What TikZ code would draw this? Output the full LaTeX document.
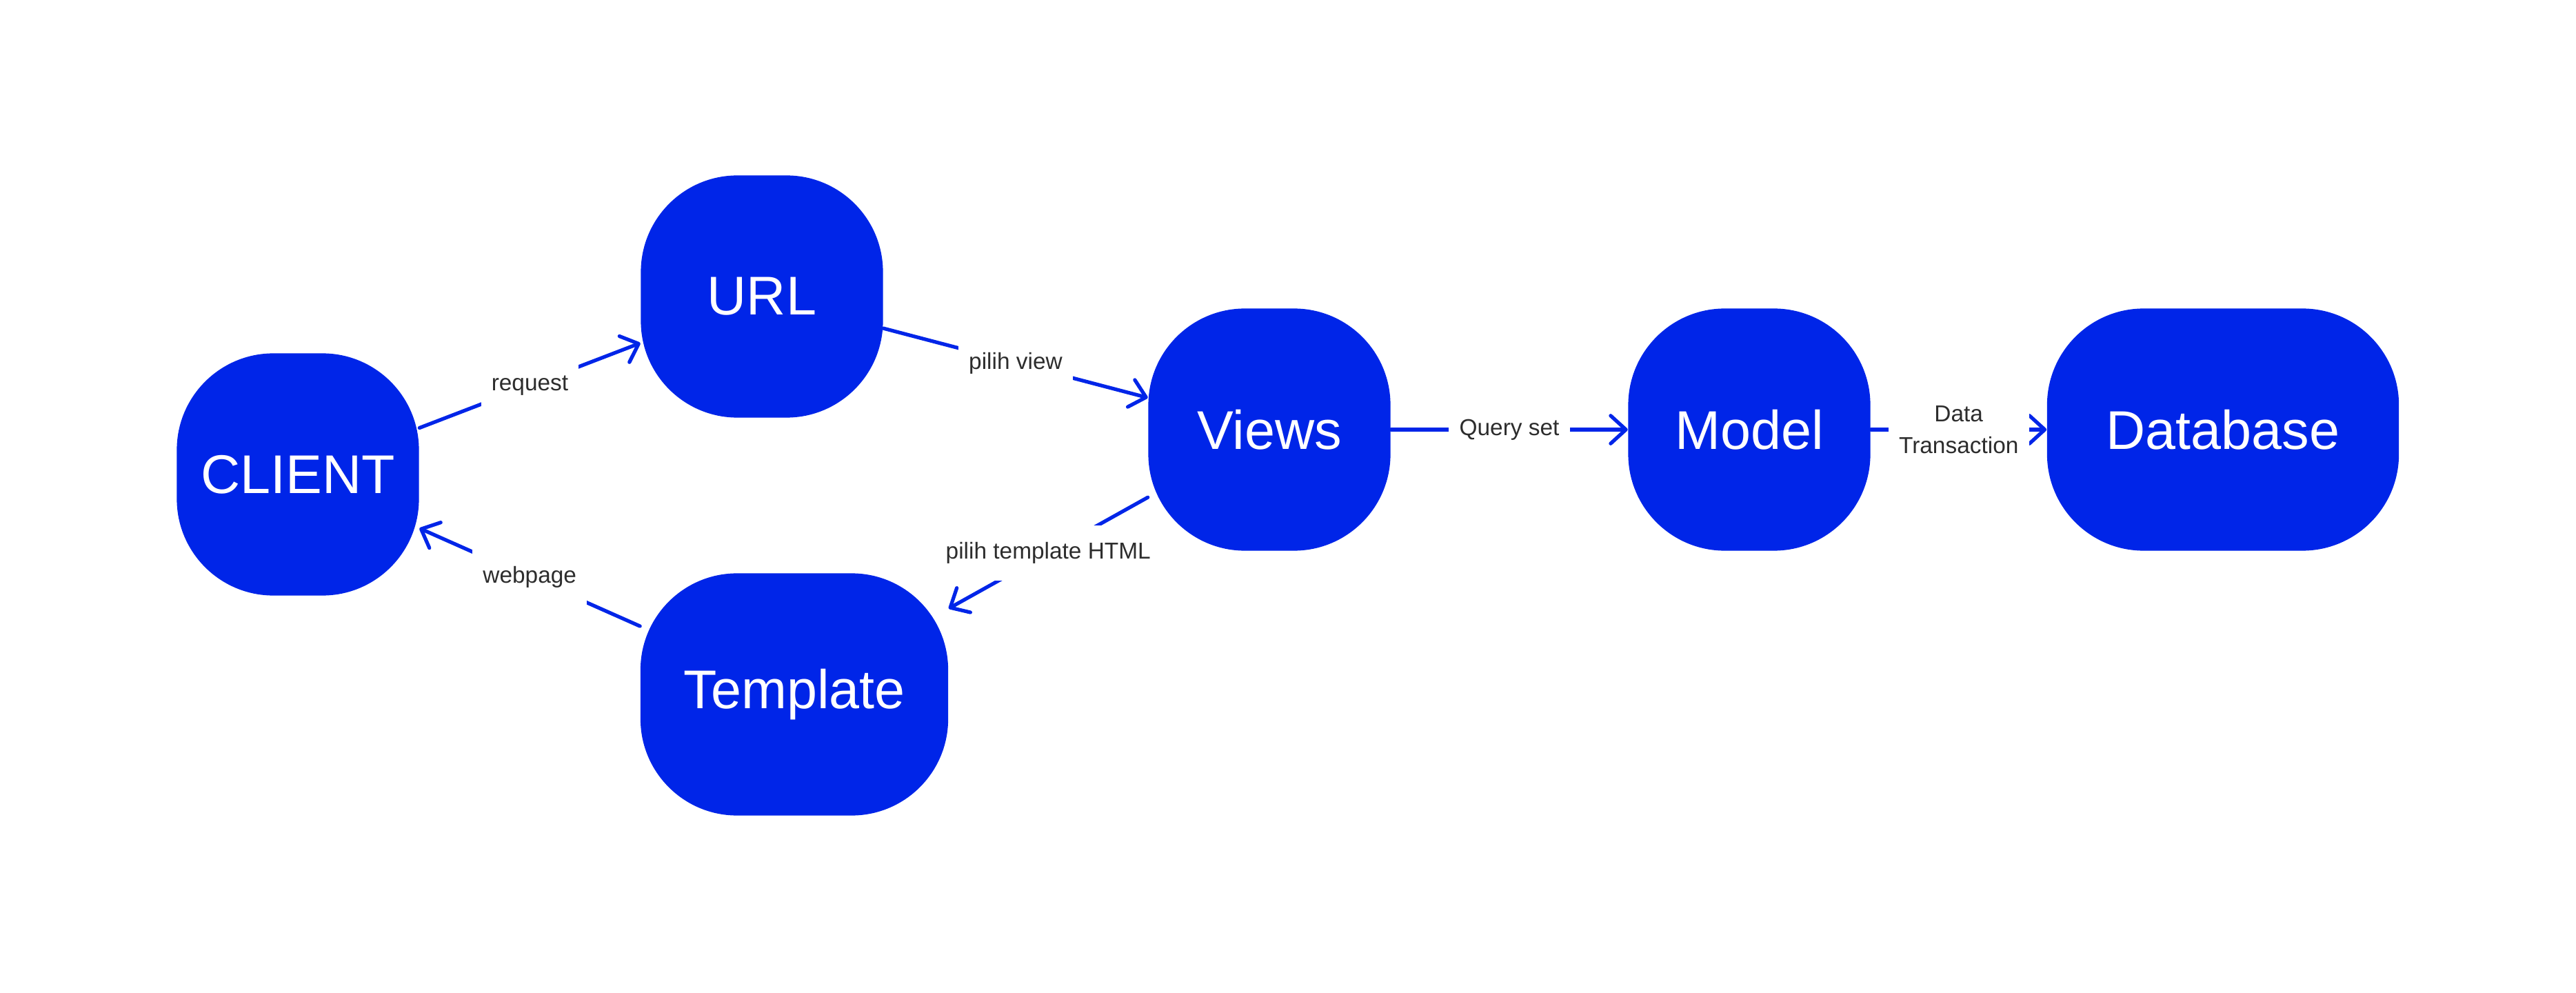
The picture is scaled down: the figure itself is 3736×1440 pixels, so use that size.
\documentclass[tikz,border=0pt]{standalone}
\usepackage{fontspec}
\setmainfont{Liberation Sans}
\usetikzlibrary{arrows.meta}

\definecolor{djblue}{RGB}{0,37,232}
\definecolor{lblgray}{RGB}{45,45,45}

\tikzset{
  block/.style={fill=djblue, text=white, rounded corners=1.4cm,
    minimum width=3.51cm, minimum height=3.51cm, inner sep=0pt,
    font=\fontsize{22.5}{27}\selectfont},
  flow/.style={draw=djblue, line width=1.5pt, line cap=round,
    -{Straight Barb[length=6.3pt,width=11.5pt,round]}},
  lbl/.style={fill=white, text=lblgray, inner xsep=4.3pt, inner ysep=7pt,
    font=\fontsize{9.5}{13}\selectfont}
}

\begin{document}
\begin{tikzpicture}[x=0.01cm,y=-0.01cm]
                \useasboundingbox (0,0) rectangle (3736,1440);

                \node[block] (client) at (432,688) {CLIENT};
                \node[block] (url) at (1105,430) {URL};
                \node[block, minimum width=4.46cm] (template) at (1152,1007) {Template};
                \node[block] (views) at (1841,623) {Views};
                \node[block] (model) at (2537,623) {Model};
                \node[block, minimum width=5.1cm] (database) at (3224,623) {Database};

                \draw[flow] (client) -- node[lbl] {request} (url);
                \draw[flow] (url) -- node[lbl] {pilih view} (views);
                \draw[flow] (views) -- node[lbl] {pilih template HTML} (template);
                \draw[flow] (template) -- node[lbl] {webpage} (client);
                \draw[flow] (views) -- node[lbl] {Query set} (model);
                \draw[flow] (model) -- node[lbl, align=center] {Data\\Transaction} (database);
            \end{tikzpicture}
\end{document}
